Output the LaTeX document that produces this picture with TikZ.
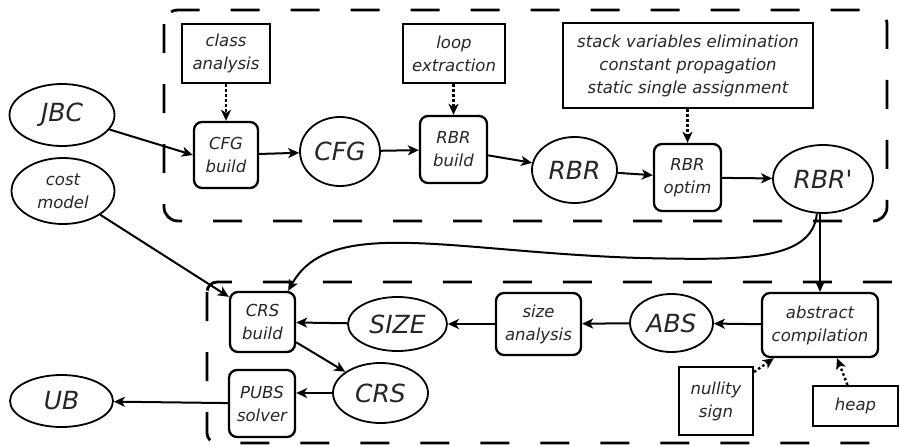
\documentclass[tikz,border=0pt]{standalone}
\usepackage{fontspec}
\setmainfont{DejaVu Sans}[Ligatures=TeXOff]
\usetikzlibrary{arrows.meta,shapes.geometric}
\begin{document}
\begin{tikzpicture}[x=1pt,y=-1pt,
  every node/.style={font=\itshape\fontsize{16.5}{23}\selectfont, align=center, inner sep=0pt, text=black!85},
  sqbox/.style={draw, rectangle, line width=2.1pt},
  rbox/.style={draw, rectangle, rounded corners=8pt, line width=2.3pt},
  ell/.style={draw, ellipse, line width=1.8pt},
  big/.style={font=\itshape\fontsize{25}{30}\selectfont},
  conn/.style={line width=2pt, -{Stealth[length=11pt,width=10pt,inset=3pt]}},
  dotconn/.style={conn, line width=2.4pt, dash pattern=on 2.5pt off 2.5pt},
  frame/.style={line width=2.8pt, dash pattern=on 29pt off 31pt, rounded corners=14pt}]
\useasboundingbox (0,0) rectangle (900,447);
\clip (0,0) rectangle (900,447);
% frames
\draw[frame] (164,10) rectangle (887,221);
\draw[frame, rounded corners=10pt] (207,282) rectangle (940,443);
% top row
\node[sqbox, minimum width=88pt, minimum height=59pt] (cls) at (226,53.5) {class\\analysis};
\node[rbox, minimum width=64pt, minimum height=66pt] (cfgb) at (226,155) {CFG\\build};
\node[ell, big, minimum width=105pt, minimum height=62pt] (jbc) at (62,115) {JBC};
\node[ell, minimum width=103pt, minimum height=66pt] (cost) at (63,191) {cost\\model};
\node[ell, big, minimum width=80pt, minimum height=69pt] (cfg) at (340,151.5) {CFG};
\node[sqbox, minimum width=102pt, minimum height=59pt] (loop) at (454,53.5) {loop\\extraction};
\node[rbox, minimum width=67pt, minimum height=67pt] (rbrb) at (453.5,149.5) {RBR\\build};
\node[ell, big, minimum width=85pt, minimum height=66pt] (rbr) at (574.5,170) {RBR};
\node[sqbox, minimum width=250pt, minimum height=85pt] (stack) at (688,65.5) {stack variables elimination\\constant propagation\\static single assignment};
\node[rbox, minimum width=67pt, minimum height=67pt] (rbro) at (687.5,177.5) {RBR\\optim};
\node[ell, big, minimum width=100pt, minimum height=68pt] (rbrp) at (823,179) {RBR'};
% bottom
\node[rbox, minimum width=65pt, minimum height=60pt] (crsb) at (262.5,322) {CRS\\build};
\node[ell, big, minimum width=99pt, minimum height=54pt] (size) at (397.5,324) {SIZE};
\node[ell, big, minimum width=95pt, minimum height=60pt] (crs) at (380.5,393) {CRS};
\node[rbox, minimum width=66pt, minimum height=67pt] (pubs) at (262,403.5) {PUBS\\solver};
\node[ell, big, minimum width=103pt, minimum height=52pt] (ub) at (61.5,401) {UB};
\node[rbox, minimum width=85pt, minimum height=62pt] (sizea) at (538.5,324) {size\\analysis};
\node[ell, big, minimum width=83pt, minimum height=58pt] (abs) at (671.5,323) {ABS};
\node[rbox, minimum width=116pt, minimum height=64pt] (absc) at (820,325) {abstract\\compilation};
\node[sqbox, minimum width=74pt, minimum height=68pt] (null) at (716,401) {nullity\\sign};
\node[sqbox, minimum width=85pt, minimum height=40pt] (heap) at (855.5,406) {heap};
% connectors
\draw[conn] (jbc) -- (cfgb.west);
\draw[conn] (cfgb) -- (cfg);
\draw[conn] (cfg) -- (rbrb);
\draw[conn] (rbrb) -- (rbr);
\draw[conn] (rbr) -- (rbro);
\draw[conn] (rbro) -- (rbrp);
\draw[dotconn] (cls) -- (cfgb);
\draw[dotconn] (loop.south -| rbrb) -- (rbrb.north);
\draw[dotconn] (stack.south -| rbro) -- (rbro.north);
\draw[conn] (rbrp.south -| absc) -- (absc.north);
\draw[conn] (rbrp.-100) .. controls (812,262) and (740,260) .. (640,258) .. controls (450,252) and (330,215) .. ([xshift=-8pt]crsb.north east);
\draw[conn] (cost) -- ([yshift=-6pt]crsb.north west);
\draw[conn] (size) -- (crsb);
\draw[conn] (sizea) -- (size);
\draw[conn] (abs) -- (sizea);
\draw[conn] (absc) -- (abs);
\draw[conn] (crsb) -- (crs);
\draw[conn] (crs.west) -- (crs.west -| pubs.east);
\draw[conn] (pubs) -- (ub);
\draw[dotconn] ([yshift=-6pt]null.north east) -- ([xshift=13pt]absc.south west);
\draw[dotconn] ([xshift=-8pt]heap.north) -- ([xshift=17pt]absc.south);
\end{tikzpicture}
\end{document}
